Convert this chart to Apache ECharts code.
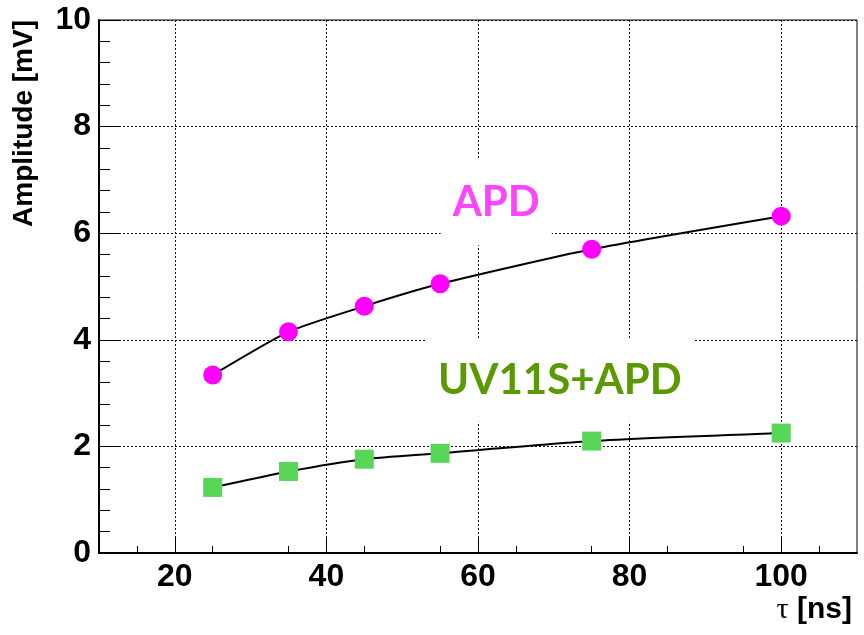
<!DOCTYPE html>
<html><head><meta charset="utf-8">
<script src="https://cdn.jsdelivr.net/npm/echarts@6/dist/echarts.min.js"></script>
<style>html,body{margin:0;padding:0;background:#fff}#c{width:864px;height:635px}</style>
</head><body><div id="c"></div>
<script>
const tau = [25, 35, 45, 55, 75, 100];
const apd = [3.34, 4.15, 4.63, 5.05, 5.70, 6.32];
const uvApd = [1.23, 1.53, 1.76, 1.87, 2.10, 2.25];
const xTicks = [20, 40, 60, 80, 100];
const apdLabel = 'APD';
const uvLabel = 'UV11S+APD';
const xTitle = '{t|τ} [ns]';
const yTitle = 'Amplitude [mV]';

const chart = echarts.init(document.getElementById('c'));
const tickFont = {fontFamily: 'Liberation Sans', fontWeight: 'bold', fontSize: 32, color: '#000'};
const grid = {type: [2, 2], color: '#111', width: 1};
chart.setOption({
  animation: false,
  grid: {left: 99, right: 7, top: 20, bottom: 82, show: true, borderColor: '#000', borderWidth: 1, containLabel: false},
  xAxis: {
    type: 'value', min: 10, max: 110, interval: 20,
    axisLine: {onZero: false, lineStyle: {color: '#000', width: 2}},
    axisTick: {inside: true, length: 15, customValues: xTicks, lineStyle: {color: '#000', width: 1}},
    minorTick: {show: true, splitNumber: 4, length: 7, lineStyle: {color: '#000', width: 1}},
    splitLine: {show: true, lineStyle: grid},
    axisLabel: Object.assign({margin: 8, customValues: xTicks}, tickFont),
    name: xTitle, nameLocation: 'end', nameGap: 0,
    nameTextStyle: {fontFamily: 'Liberation Sans', fontWeight: 'bold', fontSize: 30, color: '#000', align: 'right', verticalAlign: 'top', padding: [42, 5, 0, 0],
      rich: {t: {fontFamily: 'Liberation Serif', fontWeight: 'normal', fontSize: 30, color: '#000'}}}
  },
  yAxis: {
    type: 'value', min: 0, max: 10, interval: 2,
    axisLine: {onZero: false, lineStyle: {color: '#000', width: 2}},
    axisTick: {inside: true, length: 20, lineStyle: {color: '#000', width: 1}},
    minorTick: {show: true, splitNumber: 5, length: 11, lineStyle: {color: '#000', width: 1}},
    splitLine: {show: true, lineStyle: grid},
    axisLabel: Object.assign({margin: 8}, tickFont),
    name: yTitle, nameLocation: 'end', nameGap: 0, nameRotate: 90,
    nameTextStyle: {fontFamily: 'Liberation Sans', fontWeight: 'bold', fontSize: 28, color: '#000', align: 'right', verticalAlign: 'bottom', padding: [0, 0, 61, 0]}
  },
  series: [
    {
      type: 'line', data: tau.map((x, i) => [x, apd[i]]), smooth: 0.2,
      symbol: 'circle', symbolSize: 19, itemStyle: {color: '#ff00ff'},
      lineStyle: {color: '#000', width: 2}, z: 3,
      markPoint: {
        symbol: 'circle', symbolSize: 0,
        data: [{coord: [62.4, 6.58], value: apdLabel}],
        label: {show: true, position: 'inside', formatter: apdLabel, fontFamily: 'Lato', fontWeight: 'bold', fontSize: 42, color: '#ff44ff', backgroundColor: '#fff', padding: [22, 12, 22, 12]}
      }
    },
    {
      type: 'line', data: tau.map((x, i) => [x, uvApd[i]]), smooth: 0.2,
      symbol: 'rect', symbolSize: 19, itemStyle: {color: '#57d657'},
      lineStyle: {color: '#000', width: 2}, z: 3,
      markPoint: {
        symbol: 'circle', symbolSize: 0,
        data: [{coord: [70.8, 3.23], value: uvLabel}],
        label: {show: true, position: 'inside', formatter: uvLabel, fontFamily: 'Lato', fontWeight: 'bold', fontSize: 42, color: '#5a9900', backgroundColor: '#fff', padding: [20, 12, 20, 12]}
      }
    }
  ]
});
</script></body></html>
